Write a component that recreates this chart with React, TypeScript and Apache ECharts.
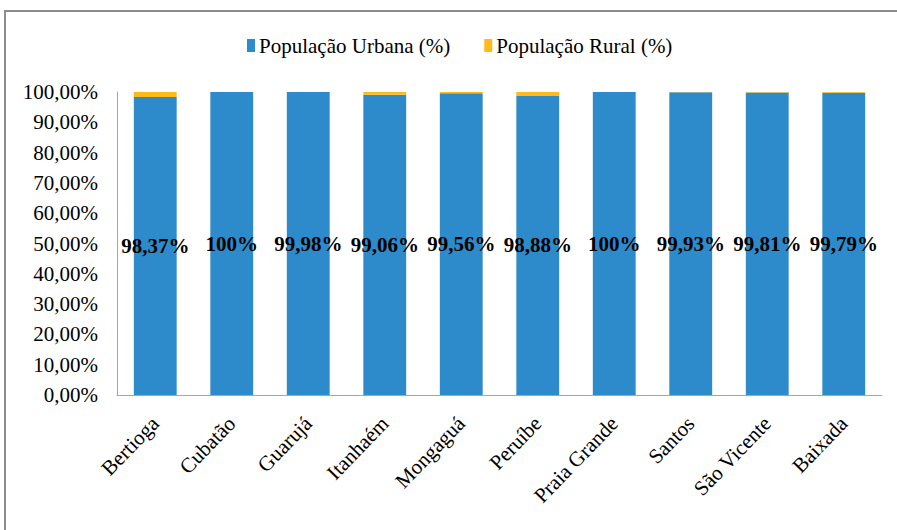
import React, { useEffect, useRef } from "react";
import * as echarts from "echarts";

const categories = ["Bertioga", "Cubatão", "Guarujá", "Itanhaém", "Mongaguá", "Peruíbe", "Praia Grande", "Santos", "São Vicente", "Baixada"];
const urbanValues = [98.37, 100, 99.98, 99.06, 99.56, 98.88, 100, 99.93, 99.81, 99.79];
const urbanLabels = ["98,37%", "100%", "99,98%", "99,06%", "99,56%", "98,88%", "100%", "99,93%", "99,81%", "99,79%"];
const ruralValues = [1.63, null, 0.3, 0.94, 0.44, 1.12, null, 0.3, 0.3, 0.3];
const seriesNames = ["População Urbana (%)", "População Rural (%)"];
const seriesColors = ["#2e8bcb", "#fdbb1a"];

const FONT = "Liberation Serif, Times New Roman, serif";

export default function App() {
  const ref = useRef<HTMLDivElement>(null);
  useEffect(() => {
    if (!ref.current) return;
    const chart = echarts.init(ref.current, null, { renderer: "svg" });
    const txt = { fontFamily: FONT, fontSize: 21, color: "#000" };
    chart.setOption({
      animation: false,
      backgroundColor: "#ffffff",
      textStyle: { fontFamily: FONT },
      graphic: [
        {
          type: "rect",
          shape: { x: 5, y: 11, width: 900, height: 530 },
          style: { fill: "none", stroke: "#8c8c8c", lineWidth: 2 },
          silent: true,
        },
      ],
      legend: {
        top: 30,
        left: 242,
        icon: "rect",
        itemWidth: 8,
        itemHeight: 13,
        itemGap: 34,
        textStyle: { ...txt, padding: [0, 0, 0, -1] },
        data: seriesNames,
      },
      grid: { left: 117, right: 15, top: 92, bottom: 135 },
      xAxis: {
        type: "category",
        data: categories,
        axisLine: { show: true, lineStyle: { color: "#a6a6a6", width: 1 } },
        axisTick: { show: false },
        axisLabel: {
          rotate: 46,
          interval: 0,
          margin: 25,
          ...txt,
        },
      },
      yAxis: {
        type: "value",
        min: 0,
        max: 100,
        interval: 10,
        axisLine: { show: true, lineStyle: { color: "#a6a6a6", width: 1 } },
        axisTick: { show: false },
        splitLine: { show: false },
        axisLabel: {
          margin: 19,
          ...txt,
          formatter: (v: number) => `${v.toFixed(2).replace(".", ",")}%`,
        },
      },
      series: [
        {
          name: seriesNames[0],
          type: "bar",
          stack: "total",
          barWidth: "56%",
          data: urbanValues,
          itemStyle: { color: seriesColors[0] },
          label: {
            show: true,
            position: "inside",
            fontFamily: FONT,
            fontSize: 21,
            fontWeight: "bold",
            color: "#000",
            formatter: (p: any) => urbanLabels[p.dataIndex],
          },
        },
        {
          name: seriesNames[1],
          type: "bar",
          stack: "total",
          barWidth: "56%",
          data: ruralValues,
          itemStyle: { color: seriesColors[1] },
          barMinHeight: 1,
        },
      ],
    });
    return () => chart.dispose();
  }, []);
  return (
    <div
      ref={ref}
      style={{ position: "absolute", left: 0, top: 0, width: 897, height: 530 }}
    />
  );
}
